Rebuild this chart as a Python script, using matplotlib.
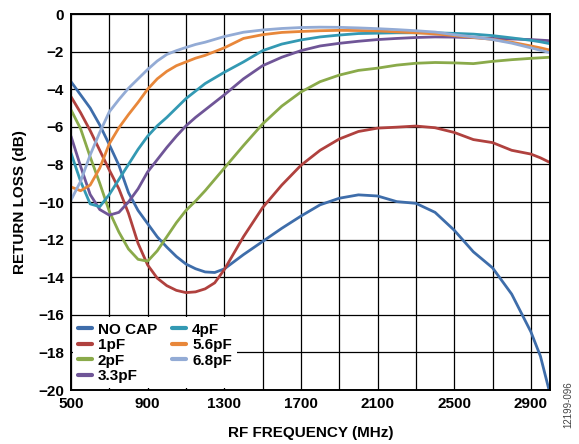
import matplotlib
matplotlib.use("Agg")
import matplotlib.pyplot as plt

plt.rcParams['font.family'] = ['Liberation Sans', 'DejaVu Sans']
plt.rcParams['font.weight'] = 'bold'

# frequency grid (MHz) the curves were read at
freq = [500, 550, 600, 650, 700, 750, 800, 850, 900, 950, 1000, 1050, 1100,
        1150, 1200, 1250, 1300, 1400, 1500, 1600, 1700, 1800, 1900, 2000,
        2100, 2200, 2300, 2400, 2500, 2600, 2700, 2800, 2900, 2950, 3000]

no_cap = [-3.6, -4.3, -5.0, -5.9, -6.95, -8.05, -9.5, -10.45, -11.15, -11.85,
          -12.4, -12.9, -13.3, -13.55, -13.72, -13.75, -13.56, -12.8, -12.1,
          -11.4, -10.75, -10.15, -9.8, -9.62, -9.68, -9.98, -10.07, -10.55,
          -11.5, -12.65, -13.5, -14.9, -16.9, -18.2, -20.2]
cap_1pf = [-4.4, -5.25, -6.2, -7.25, -8.3, -9.3, -10.6, -12.2, -13.35, -14.05,
           -14.45, -14.7, -14.82, -14.78, -14.62, -14.3, -13.6, -11.85, -10.3,
           -9.1, -8.05, -7.25, -6.65, -6.25, -6.07, -6.02, -5.96, -6.05, -6.3,
           -6.68, -6.84, -7.25, -7.45, -7.65, -7.9]
cap_2pf = [-5.1, -6.1, -7.6, -9.0, -10.5, -11.6, -12.5, -13.05, -13.15, -12.6,
           -11.85, -11.1, -10.45, -9.95, -9.4, -8.8, -8.2, -7.0, -5.85, -4.9,
           -4.15, -3.6, -3.25, -3.0, -2.88, -2.72, -2.62, -2.58, -2.6, -2.64,
           -2.52, -2.43, -2.36, -2.33, -2.3]
cap_3p3pf = [-6.5, -8.1, -9.6, -10.4, -10.7, -10.55, -10.0, -9.3, -8.4, -7.75,
             -7.1, -6.5, -5.95, -5.5, -5.1, -4.7, -4.3, -3.45, -2.75, -2.3,
             -1.95, -1.7, -1.56, -1.45, -1.36, -1.3, -1.25, -1.22, -1.23,
             -1.26, -1.3, -1.33, -1.36, -1.39, -1.42]
cap_4pf = [-7.4, -8.9, -10.1, -10.25, -9.6, -8.8, -8.0, -7.2, -6.5, -5.95,
           -5.5, -5.0, -4.5, -4.1, -3.7, -3.4, -3.1, -2.55, -1.95, -1.6, -1.38,
           -1.22, -1.12, -1.04, -1.02, -1.0, -1.0, -1.0, -1.03, -1.07, -1.15,
           -1.27, -1.4, -1.48, -1.58]
cap_5p6pf = [-9.2, -9.4, -9.1, -8.2, -6.9, -6.05, -5.35, -4.7, -4.0, -3.45,
             -3.05, -2.75, -2.55, -2.35, -2.2, -2.0, -1.8, -1.3, -1.1, -0.98,
             -0.93, -0.89, -0.87, -0.88, -0.9, -0.95, -1.0, -1.06, -1.15,
             -1.25, -1.35, -1.5, -1.7, -1.8, -1.92]
cap_6p8pf = [-9.9, -8.9, -7.5, -6.3, -5.2, -4.55, -3.95, -3.45, -2.95, -2.5,
             -2.15, -1.95, -1.78, -1.62, -1.5, -1.35, -1.2, -0.97, -0.85,
             -0.77, -0.72, -0.7, -0.71, -0.74, -0.78, -0.83, -0.89, -0.96,
             -1.1, -1.22, -1.36, -1.55, -1.8, -1.93, -2.06]

labels = ['NO CAP', '1pF', '2pF', '3.3pF', '4pF', '5.6pF', '6.8pF']
series = [no_cap, cap_1pf, cap_2pf, cap_3p3pf, cap_4pf, cap_5p6pf, cap_6p8pf]
colors = ['#3E6DAA', '#B0413E', '#8AAA4A', '#6F5597', '#3399B3', '#E8873A',
          '#93ABD5']

xticks = [500, 900, 1300, 1700, 2100, 2500, 2900]
xminor = [700, 1100, 1500, 1900, 2300, 2700]
yticks = [0, -2, -4, -6, -8, -10, -12, -14, -16, -18, -20]

fig = plt.figure(figsize=(5.79, 4.44), dpi=100)
ax = fig.add_axes([71 / 579, 54 / 444, 479 / 579, 376 / 444])

for y, lab, c in zip(series, labels, colors):
    ax.plot(freq, y, color=c, lw=2.0, label=lab, solid_capstyle='round',
            solid_joinstyle='round')

ax.set_xlim(500, 3000)
ax.set_ylim(-20, 0)
ax.set_xticks(xticks)
ax.set_xticks(xminor, minor=True)
ax.set_yticks(yticks)
ax.grid(True, which='both', color='black', lw=0.9)
ax.set_axisbelow(True)
ax.tick_params(which='both', length=0, labelsize=11, pad=5)
for s in ax.spines.values():
    s.set_linewidth(1.4)
    s.set_zorder(3)

ax.set_xlabel('RF FREQUENCY (MHz)', fontsize=11, fontweight='bold', labelpad=11)
ax.set_ylabel('RETURN LOSS (dB)', fontsize=11, fontweight='bold', labelpad=8)

leg = ax.legend(loc='lower left', ncol=2, fontsize=11, frameon=True,
                fancybox=False, borderaxespad=0.1, borderpad=0.35,
                handlelength=0.9, handletextpad=0.4, columnspacing=1.0,
                labelspacing=0.1)
leg.get_frame().set_edgecolor('none')
leg.get_frame().set_facecolor('white')
leg.get_frame().set_alpha(1)
leg.set_zorder(2.4)
for h in leg.get_lines():
    h.set_linewidth(3)

fig.text(0.981, 0.088, '12199-096', rotation=90, fontsize=7,
         fontweight='normal', color='#444444', ha='center', va='center')

fig.savefig('out.png', dpi=100)
